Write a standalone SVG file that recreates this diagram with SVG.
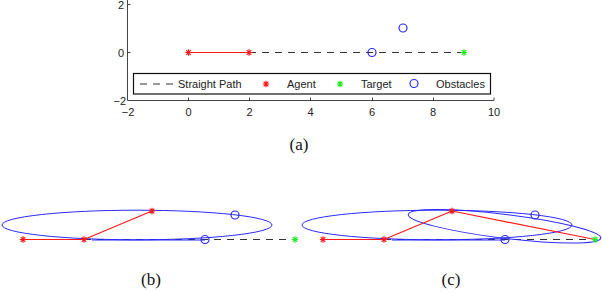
<svg xmlns="http://www.w3.org/2000/svg" xmlns:xlink="http://www.w3.org/1999/xlink" width="602" height="292" viewBox="0 0 602 292">
<style>
.ax{stroke:#444;stroke-width:1;fill:none}
.tk{font-family:"Liberation Sans",Arial,sans-serif;font-size:11px;fill:#222}
.cap{font-family:"Liberation Serif","Times New Roman",serif;font-size:17px;fill:#111;text-anchor:middle}
.dash{stroke:#333;stroke-width:1;stroke-dasharray:7 6;fill:none}
.red{stroke:#ff1a1a;stroke-width:1.2;fill:none}
.grn{stroke:#22ee22;stroke-width:1.2;fill:none}
.blu{stroke:#2a2aff;stroke-width:1;fill:none}
.obs{stroke:#2a2aff;stroke-width:1.2;fill:none}
</style>
<defs>
<path id="star" d="M-3.2,0H3.2M0,-3.2V3.2M-2.3,-2.3L2.3,2.3M-2.3,2.3L2.3,-2.3"/>
</defs>

<!-- (a) axes -->
<g id="axes-a">
<path class="ax" d="M127.5,0V100.5H494"/>
<path class="ax" d="M127.5,4.5h3M127.5,52.5h3M188.5,100.5v-3M249.5,100.5v-3M310.5,100.5v-3M372.5,100.5v-3M433.5,100.5v-3M494,100.5v-3"/>
<text class="tk" x="124" y="9" text-anchor="end">2</text>
<text class="tk" x="124" y="57" text-anchor="end">0</text>
<text class="tk" x="126" y="105" text-anchor="end">−2</text>
<text class="tk" x="128" y="116" text-anchor="middle">−2</text>
<text class="tk" x="188.5" y="116" text-anchor="middle">0</text>
<text class="tk" x="249.5" y="116" text-anchor="middle">2</text>
<text class="tk" x="310.5" y="116" text-anchor="middle">4</text>
<text class="tk" x="372" y="116" text-anchor="middle">6</text>
<text class="tk" x="433" y="116" text-anchor="middle">8</text>
<text class="tk" x="494" y="116" text-anchor="middle">10</text>
</g>
<g id="plot-a">
<line class="dash" x1="249" y1="52.5" x2="464" y2="52.5"/>
<line class="red" x1="188.5" y1="52.5" x2="249" y2="52.5"/>
<use xlink:href="#star" class="red" x="188.5" y="52.5"/>
<use xlink:href="#star" class="red" x="249" y="52.5"/>
<use xlink:href="#star" class="grn" x="464" y="52.5"/>
<circle class="obs" cx="372" cy="52.5" r="4"/>
<circle class="obs" cx="403" cy="28" r="4"/>
</g>
<g id="legend">
<rect x="133.5" y="73.5" width="357" height="20.5" fill="#fff" stroke="#111" stroke-width="1.2"/>
<line class="dash" x1="140" y1="84" x2="174" y2="84" stroke-dasharray="7 6"/>
<text class="tk" x="178" y="88">Straight Path</text>
<use xlink:href="#star" class="red" x="266" y="84"/>
<text class="tk" x="287" y="88">Agent</text>
<use xlink:href="#star" class="grn" x="340" y="84"/>
<text class="tk" x="361" y="88">Target</text>
<circle class="obs" cx="414" cy="83.5" r="4"/>
<text class="tk" x="436" y="88">Obstacles</text>
</g>
<text class="cap" x="299" y="150">(a)</text>

<!-- (b) -->
<g id="plot-b">
<line class="dash" x1="84" y1="239.5" x2="295" y2="239.5"/>
<ellipse class="blu" cx="137" cy="225" rx="135" ry="14.8"/>
<line class="blu" x1="92" y1="240" x2="205" y2="240"/>
<line class="red" x1="23" y1="239.5" x2="84" y2="239.5"/>
<line class="red" x1="84" y1="239.5" x2="152" y2="211"/>
<use xlink:href="#star" class="red" x="23" y="239.5"/>
<use xlink:href="#star" class="red" x="84" y="239.5"/>
<use xlink:href="#star" class="red" x="152" y="211"/>
<use xlink:href="#star" class="grn" x="295" y="239.5"/>
<circle class="obs" cx="235" cy="215" r="4"/>
<circle class="obs" cx="205" cy="239.5" r="4"/>
</g>
<text class="cap" x="151" y="285">(b)</text>

<!-- (c) -->
<g id="plot-c">
<line class="dash" x1="384" y1="239.5" x2="595" y2="239.5"/>
<ellipse class="blu" cx="437" cy="225" rx="135" ry="14.8"/>
<ellipse class="blu" cx="0" cy="0" rx="97" ry="12" transform="translate(504.5 226.3) rotate(7)"/>
<line class="blu" x1="392" y1="240" x2="505" y2="240"/>
<line class="red" x1="323" y1="239.5" x2="384" y2="239.5"/>
<line class="red" x1="384" y1="239.5" x2="452" y2="211"/>
<line class="red" x1="452" y1="211" x2="595" y2="239.5"/>
<use xlink:href="#star" class="red" x="323" y="239.5"/>
<use xlink:href="#star" class="red" x="384" y="239.5"/>
<use xlink:href="#star" class="red" x="452" y="211"/>
<use xlink:href="#star" class="grn" x="595" y="239.5"/>
<circle class="obs" cx="535" cy="215" r="4"/>
<circle class="obs" cx="505" cy="239.5" r="4"/>
</g>
<text class="cap" x="451" y="285">(c)</text>
</svg>
